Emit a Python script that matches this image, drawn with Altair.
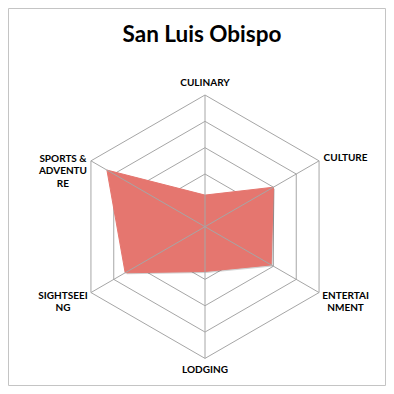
import math
import altair as alt
import pandas as pd

# ---- data ----
title_text = "San Luis Obispo"
categories = ["CULINARY", "CULTURE", "ENTERTAINMENT", "LODGING", "SIGHTSEEING", "SPORTS & ADVENTURE"]
axis_labels = ["CULINARY", "CULTURE", "ENTERTAI\nNMENT", "LODGING", "SIGHTSEEI\nNG", "SPORTS &\nADVENTU\nRE"]
values = [1.2, 3.0, 2.9, 1.7, 3.5, 4.3]
grid_levels = [1, 2, 3, 4, 5]
axis_max = 5

n = len(categories)
angles = [2 * math.pi * i / n for i in range(n)]

# polygon (closed)
poly_rows = []
for k in range(n + 1):
    i = k % n
    poly_rows.append({"order": k, "cat": categories[i],
                      "x": values[i] * math.sin(angles[i]),
                      "y": values[i] * math.cos(angles[i])})
poly_df = pd.DataFrame(poly_rows)

# grid rings
ring_rows = []
for lvl in grid_levels:
    for k in range(n + 1):
        i = k % n
        ring_rows.append({"level": lvl, "order": k,
                          "x": lvl * math.sin(angles[i]),
                          "y": lvl * math.cos(angles[i])})
ring_df = pd.DataFrame(ring_rows)

# spokes
spoke_df = pd.DataFrame({"cat": categories,
                         "x0": [0.0] * n, "y0": [0.0] * n,
                         "x": [axis_max * math.sin(a) for a in angles],
                         "y": [axis_max * math.cos(a) for a in angles]})

# labels anchored at the outer vertex
label_df = pd.DataFrame({"cat": categories, "label": axis_labels,
                         "x": [axis_max * math.sin(a) for a in angles],
                         "y": [axis_max * math.cos(a) for a in angles]})

W, H = 377, 377
cx, cy, R = 197.0, 218.7, 131.7
xs = alt.Scale(domain=[-axis_max, axis_max], range=[cx - R, cx + R])
ys = alt.Scale(domain=[-axis_max, axis_max], range=[cy + R, cy - R])
X = alt.X("x:Q", scale=xs, axis=None)
Y = alt.Y("y:Q", scale=ys, axis=None)

grid_color = "#a6a6a6"
fill_color = "#e5766f"
FONT = "Lato"

rings = alt.Chart(ring_df).mark_line(color=grid_color, strokeWidth=1).encode(
    x=X, y=Y, detail="level:N", order="order:Q")

shadow = alt.Chart(poly_df).mark_line(
    fill="#000000", fillOpacity=0.18, strokeOpacity=0, xOffset=1.5, yOffset=1.5
).encode(x=X, y=Y, order="order:Q")

poly = alt.Chart(poly_df).mark_line(
    fill=fill_color, fillOpacity=1, stroke=fill_color, strokeWidth=1
).encode(x=X, y=Y, order="order:Q")

spokes = alt.Chart(spoke_df).mark_rule(color=grid_color, strokeWidth=1).encode(
    x=alt.X("x0:Q", scale=xs, axis=None), y=alt.Y("y0:Q", scale=ys, axis=None),
    x2="x:Q", y2="y:Q")

offsets = {
    "CULINARY": (0, -12),
    "CULTURE": (26.5, -2.5),
    "ENTERTAINMENT": (26.5, 3),
    "LODGING": (0, 12),
    "SIGHTSEEING": (-28, 3),
    "SPORTS & ADVENTURE": (-28, -2),
}
label_layers = []
for cat in categories:
    dx, dy = offsets[cat]
    label_layers.append(
        alt.Chart(label_df).transform_filter(alt.datum.cat == cat).mark_text(
            font=FONT, fontSize=10, fontWeight="bold", color="#000000",
            align="center", baseline="middle", lineBreak="\n", lineHeight=12.5,
            dx=dx, dy=dy
        ).encode(x=X, y=Y, text="label:N"))

title = alt.Chart(pd.DataFrame({"t": [title_text]})).mark_text(
    font=FONT, fontSize=22.5, fontWeight="bold", color="#000000",
    align="center", baseline="middle"
).encode(x=alt.value(194), y=alt.value(27), text="t:N")

chart = alt.layer(rings, shadow, poly, spokes, *label_layers, title).properties(
    width=W, height=H, autosize=alt.AutoSizeParams(type="none"),
    padding={"left": 0, "top": 0, "right": 1, "bottom": 1}
).configure_view(stroke="#c4c4c4", strokeWidth=1)

chart.save("out.html", embed_options={"renderer": "svg", "actions": False})
